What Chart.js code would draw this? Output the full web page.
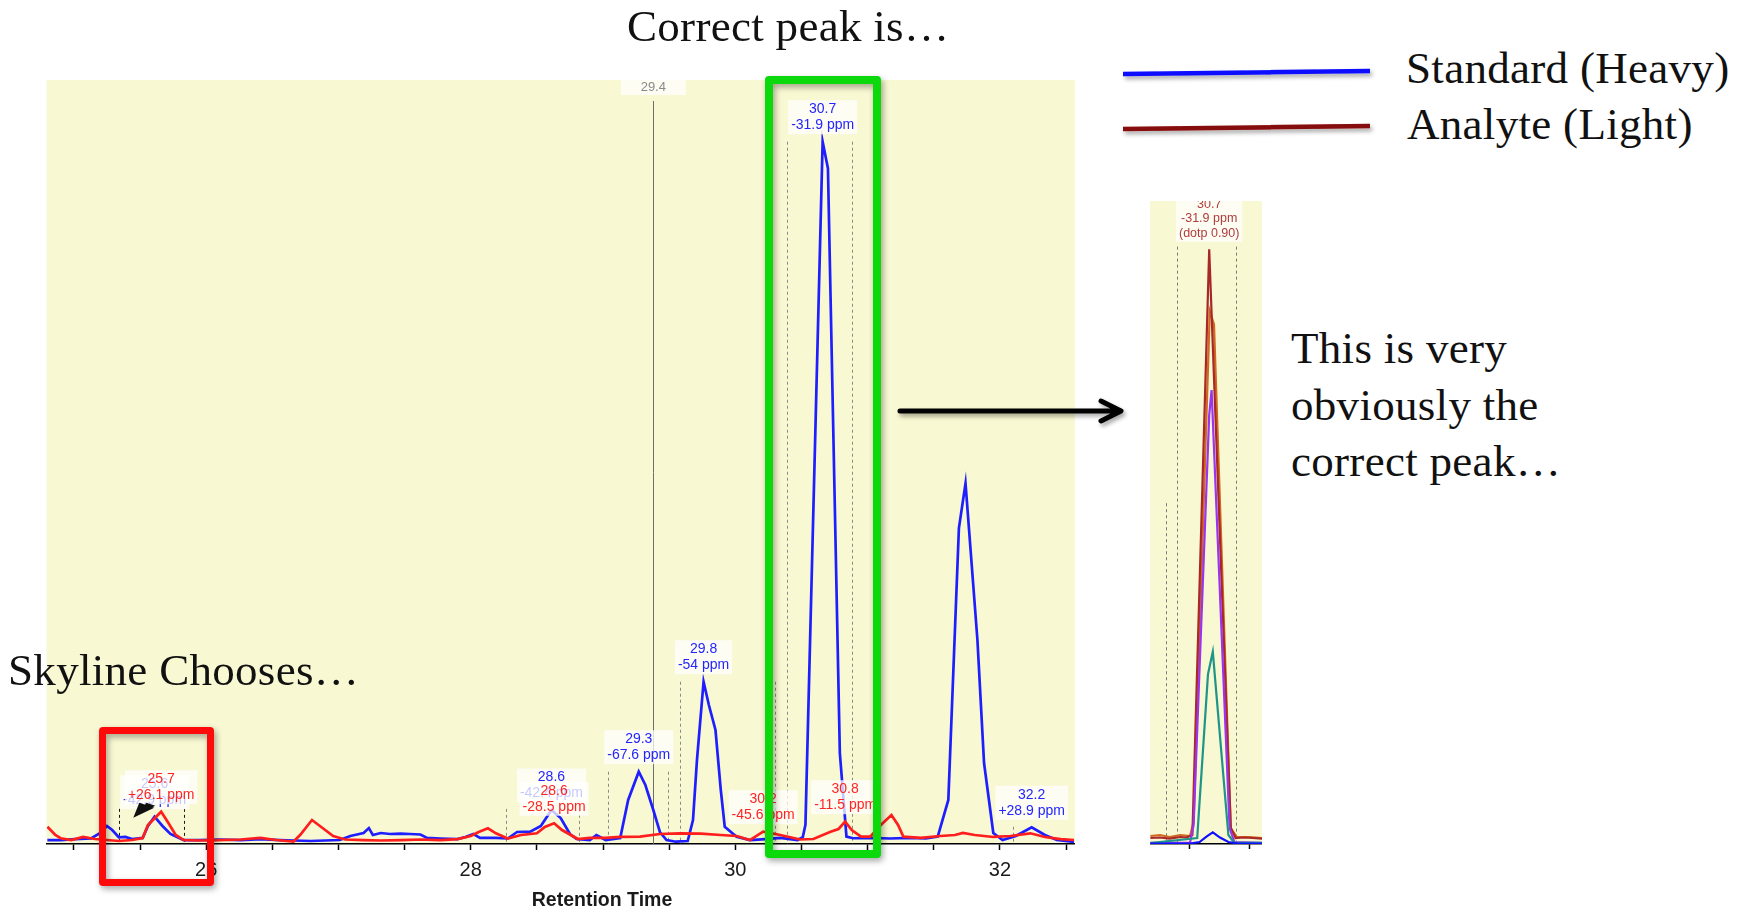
<!DOCTYPE html>
<html>
<head>
<meta charset="utf-8">
<title>Peak picking</title>
<script src="https://cdn.jsdelivr.net/npm/chart.js@4.4.1/dist/chart.umd.min.js"></script>
<style>
  html, body { margin: 0; padding: 0; background: #fff; }
  body { position: relative; width: 1741px; height: 908px; overflow: hidden; }
  canvas { position: absolute; }
  #main { left: 0; top: 0; }
  #zoom { left: 1150px; top: 201px; }
  .say { position: absolute; margin: 0; white-space: nowrap; color: #111; letter-spacing: 0.3px;
         font: 45px/56px "Liberation Serif", "DejaVu Serif", serif; }
  .frame { position: absolute; box-sizing: border-box; border-radius: 4px;
           filter: drop-shadow(2px 3px 3px rgba(0, 0, 0, .35)); }
  #marks { position: absolute; left: 0; top: 0; pointer-events: none; }
</style>
</head>
<body>
<canvas id="main" width="1100" height="908"></canvas>
<canvas id="zoom" width="112" height="651"></canvas>

<div class="say" style="left:627px;top:-2px">Correct peak is…</div>
<div class="say" style="left:1406px;top:40px">Standard (Heavy)</div>
<div class="say" style="left:1407px;top:96px">Analyte (Light)</div>
<div class="say" style="left:8px;top:642px">Skyline Chooses…</div>
<div class="say" style="left:1291px;top:320px;line-height:56.7px">This is very<br>obviously the<br>correct peak…</div>

<div class="frame" style="left:99px;top:727px;width:115px;height:159px;border:7.5px solid #ff0a0a"></div>
<div class="frame" style="left:765px;top:76px;width:116px;height:782px;border:8px solid #0bd90b"></div>

<svg id="marks" width="1741" height="908">
  <defs>
    <filter id="sh" filterUnits="userSpaceOnUse" x="0" y="0" width="1741" height="908">
      <feDropShadow dx="2" dy="3" stdDeviation="2" flood-opacity="0.35"/>
    </filter>
  </defs>
  <g filter="url(#sh)">
    <line x1="1123" y1="74" x2="1370" y2="71" stroke="#0b0bff" stroke-width="4.5"/>
    <line x1="1123" y1="129" x2="1370" y2="126" stroke="#850808" stroke-width="4.5"/>
    <path d="M900 411 H1118 M1101 401 L1121 411 L1101 421" fill="none" stroke="#000"
          stroke-width="5" stroke-linecap="round" stroke-linejoin="round"/>
  </g>
</svg>

<script>
const FONT = '"Liberation Sans", Arial, sans-serif';
const PLOT_BG = '#f8f8d2';

// main chromatogram: retention time (min) and intensity (% of full scale)
const heavyRt = [24.80, 24.90, 25.01, 25.13, 25.20, 25.25, 25.29, 25.34, 25.39, 25.44,
  25.52, 25.56, 25.61, 25.67, 25.73, 25.83, 25.95, 26.10, 26.26, 26.41, 26.56, 26.66,
  26.79, 27.01, 27.09, 27.14, 27.19, 27.23, 27.26, 27.32, 27.39, 27.47, 27.54, 27.62,
  27.67, 27.77, 27.90, 27.96, 28.02, 28.07, 28.19, 28.28, 28.35, 28.45, 28.53, 28.61,
  28.68, 28.75, 28.80, 28.90, 28.95, 29.02, 29.13, 29.19, 29.27, 29.32, 29.38, 29.43,
  29.48, 29.55, 29.64, 29.68, 29.71, 29.76, 29.80, 29.85, 29.89, 29.92, 30.01, 30.11,
  30.23, 30.34, 30.47, 30.51, 30.53, 30.66, 30.70, 30.79, 30.84, 30.89, 31.02, 31.17,
  31.32, 31.44, 31.53, 31.61, 31.69, 31.74, 31.83, 31.88, 31.95, 32.02, 32.12, 32.24,
  32.34, 32.43, 32.56];
const heavyInt = [0.52, 0.52, 0.65, 0.72, 1.44, 2.36, 1.83, 0.88, 0.92, 0.65,
  0.79, 2.36, 3.57, 2.36, 1.31, 0.52, 0.52, 0.59, 0.52, 0.65, 0.52, 0.46,
  0.39, 0.52, 1.05, 1.24, 1.44, 2.09, 1.18, 1.44, 1.31, 1.37, 1.31, 1.24,
  0.79, 0.72, 0.65, 0.92, 1.31, 0.79, 0.79, 0.72, 1.57, 1.61, 2.36, 4.45,
  3.40, 1.31, 0.65, 0.52, 1.18, 0.52, 0.79, 5.76, 9.46, 7.72, 4.45, 1.57,
  0.52, 0.30, 0.39, 3.14, 10.99, 21.24, 18.19, 14.92, 7.07, 2.26, 0.96, 0.52,
  0.65, 0.79, 0.52, 0.90, 2.50, 91.92, 88.44, 11.91, 0.96, 0.75, 0.79, 0.72,
  0.79, 0.72, 0.96, 5.76, 41.36, 47.21, 26.70, 10.60, 1.44, 0.52, 1.05, 2.19,
  1.18, 0.52, 0.26];
const lightRt = [24.80, 24.86, 24.90, 24.98, 25.07, 25.16, 25.25, 25.34, 25.44, 25.52,
  25.56, 25.66, 25.71, 25.77, 25.83, 25.95, 26.10, 26.26, 26.41, 26.53, 26.66, 26.71,
  26.80, 26.88, 26.96, 27.05, 27.19, 27.32, 27.47, 27.62, 27.77, 27.90, 28.00, 28.06,
  28.13, 28.19, 28.28, 28.38, 28.50, 28.56, 28.63, 28.69, 28.81, 28.90, 29.02, 29.13,
  29.28, 29.43, 29.58, 29.74, 29.89, 30.01, 30.11, 30.21, 30.34, 30.49, 30.59, 30.72,
  30.78, 30.83, 30.88, 30.95, 31.02, 31.10, 31.18, 31.23, 31.27, 31.40, 31.55, 31.66,
  31.72, 31.81, 31.95, 32.08, 32.23, 32.34, 32.46, 32.56];
const lightInt = [2.26, 1.18, 0.75, 0.52, 0.92, 0.65, 0.52, 0.39, 0.52, 0.79,
  2.49, 4.23, 2.88, 1.18, 0.52, 0.46, 0.52, 0.59, 0.79, 0.52, 0.30, 1.18,
  3.14, 2.09, 1.05, 0.59, 0.52, 0.46, 0.52, 0.59, 0.52, 0.65, 1.05, 1.57,
  2.05, 1.40, 0.72, 1.18, 1.40, 2.23, 2.71, 1.83, 0.65, 0.79, 0.79, 0.92,
  0.96, 1.31, 1.40, 1.37, 1.18, 1.05, 0.52, 1.61, 1.18, 0.59, 0.65, 1.61,
  1.96, 2.92, 1.83, 0.96, 0.96, 2.49, 3.80, 2.49, 0.96, 0.79, 1.05, 1.18,
  1.44, 1.18, 0.92, 1.05, 1.40, 0.92, 0.65, 0.52];

// labelled peak apexes and their mass errors
const heavyPeakRt = [25.61, 28.61, 29.27, 29.76, 30.66, 32.24];
const heavyPeakPpm = ['-42.9 ppm', '-42.4 ppm', '-67.6 ppm', '-54 ppm', '-31.9 ppm', '+28.9 ppm'];
const lightPeakRt = [25.66, 28.63, 30.21, 30.83];
const lightPeakPpm = ['+26.1 ppm', '-28.5 ppm', '-45.6 ppm', '-11.5 ppm'];

// integration boundaries; the first pair is the peak Skyline picked
const boundStart = [25.34, 28.27, 29.04, 29.58, 30.39, 32.10];
const boundEnd = [25.83, 28.82, 29.49, 30.30, 30.88, null];
const boundTop = [4.6, 4.6, 9.46, 21.24, 91.92, 2.26];
const predictedRt = 29.38;
const predictedTop = 97.25;
const pickedMarkRt = 25.54;
const pickedMarkInt = 4.6;

// zoomed view of the 30.7 min peak, all transitions
const zoomBrownRt = [30.17, 30.25, 30.33, 30.42, 30.47, 30.52, 30.66, 30.84, 30.88, 30.95, 31.02, 31.10];
const zoomBrown = [0.93, 1.01, 0.85, 1.09, 1.01, 1.40, 92.5, 2.48, 0.93, 1.01, 0.93, 0.85];
const zoomOrangeRt = [30.17, 30.25, 30.33, 30.42, 30.50, 30.53, 30.665, 30.70, 30.84, 30.89, 31.00, 31.10];
const zoomOrange = [1.24, 1.40, 1.09, 1.40, 1.24, 3.42, 82.9, 80.8, 2.48, 1.09, 1.09, 0.93];
const zoomPurpleRt = [30.17, 30.50, 30.53, 30.66, 30.68, 30.83, 30.87, 31.10];
const zoomPurple = [0.16, 0.16, 2.95, 66.7, 70.6, 2.48, 0.31, 0.16];
const zoomTealRt = [30.17, 30.56, 30.65, 30.69, 30.82, 30.87, 31.10];
const zoomTeal = [0.16, 0.93, 26.4, 29.9, 1.40, 0.16, 0.16];
const zoomBlueRt = [30.17, 30.50, 30.58, 30.64, 30.69, 30.75, 30.82, 30.90, 31.10];
const zoomBlue = [0.08, 0.08, 0.31, 1.2, 1.8, 1.0, 0.31, 0.08, 0.08];
const zoomPeakRt = 30.66;
const zoomPeakNotes = ['-31.9 ppm', '(dotp 0.90)'];
const zoomBoundRt = [30.30, 30.39, 30.88];
const zoomBoundTop = [53.0, 92.9, 92.9];

const xy = (rt, v) => rt.map((t, i) => ({ x: t, y: v[i] }));

const plotBg = {
  id: 'plotBg',
  beforeDraw(c) {
    const { ctx, chartArea: a } = c;
    ctx.save();
    ctx.fillStyle = PLOT_BG;
    ctx.fillRect(a.left, a.top, a.width, a.height);
    ctx.restore();
  }
};

// white tag with centred lines of text, sitting above a point
function peakLabel(ctx, x, bottom, lines, color, size, lh, minW) {
  ctx.font = size + 'px ' + FONT;
  const w = Math.max(minW || 0, ...lines.map(t => ctx.measureText(t).width + 6));
  const h = lines.length * lh + 2;
  ctx.fillStyle = 'rgba(255,255,255,0.75)';
  ctx.fillRect(x - w / 2, bottom - h, w, h);
  ctx.fillStyle = color;
  ctx.textAlign = 'center';
  ctx.textBaseline = 'middle';
  lines.forEach((t, i) => ctx.fillText(t, x, bottom - h + 1 + lh * (i + 0.5)));
}

function vline(ctx, px, top, bottom) {
  px = Math.round(px) + 0.5;
  ctx.beginPath();
  ctx.moveTo(px, top);
  ctx.lineTo(px, bottom);
  ctx.stroke();
}

const peakMarks = {
  id: 'peakMarks',
  beforeDatasetsDraw(c) {
    const { ctx, scales: { x, y } } = c;
    const base = y.getPixelForValue(0);
    ctx.save();
    ctx.lineWidth = 1;
    ctx.setLineDash([3, 3]);
    boundStart.forEach((s, i) => {
      ctx.strokeStyle = i === 0 ? '#1a1a1a' : '#8a8a8a';
      const top = y.getPixelForValue(boundTop[i]);
      [s, boundEnd[i]].forEach(t => { if (t != null) vline(ctx, x.getPixelForValue(t), top, base); });
    });
    ctx.setLineDash([]);
    ctx.strokeStyle = '#6e6e6e';
    vline(ctx, x.getPixelForValue(predictedRt), y.getPixelForValue(predictedTop), base);
    ctx.restore();
  },
  afterDatasetsDraw(c) {
    const { ctx, scales: { x, y }, chartArea: a } = c;
    ctx.save();
    peakLabel(ctx, x.getPixelForValue(predictedRt), a.top + 15, [predictedRt.toFixed(1)], '#8a8a8a', 13, 13, 65);
    heavyPeakRt.forEach((t, i) => {
      const v = heavyInt[heavyRt.indexOf(t)];
      peakLabel(ctx, x.getPixelForValue(t), y.getPixelForValue(v) - 7.5,
        [t.toFixed(1), heavyPeakPpm[i]], '#2424ff', 14, 16);
    });
    lightPeakRt.forEach((t, i) => {
      const v = lightInt[lightRt.indexOf(t)];
      peakLabel(ctx, x.getPixelForValue(t), y.getPixelForValue(v) - 7.5,
        [t.toFixed(1), lightPeakPpm[i]], '#ff2424', 14, 16);
    });
    // arrow marking the picked peak
    const ax = x.getPixelForValue(pickedMarkRt), ay = y.getPixelForValue(pickedMarkInt);
    ctx.fillStyle = '#111';
    [[[-12, 9], [-6, -6], [9, -1]], [[-6, 5], [1, -6], [10, -3]]].forEach(tri => {
      ctx.beginPath();
      tri.forEach(([dx, dy], k) => (k ? ctx.lineTo(ax + dx, ay + dy) : ctx.moveTo(ax + dx, ay + dy)));
      ctx.closePath();
      ctx.fill();
    });
    ctx.restore();
  },
  afterDraw(c) {
    const ctx = c.ctx;
    ctx.save();
    ctx.font = 'bold 19.5px ' + FONT;
    ctx.fillStyle = '#1a1a1a';
    ctx.textAlign = 'center';
    ctx.textBaseline = 'middle';
    ctx.fillText('Retention Time', 602, 901);
    ctx.restore();
  }
};

new Chart(document.getElementById('main'), {
  type: 'line',
  data: {
    datasets: [
      { label: 'Analyte (Light)', data: xy(lightRt, lightInt), borderColor: '#ff1e1e', order: 0 },
      { label: 'Standard (Heavy)', data: xy(heavyRt, heavyInt), borderColor: '#1e1eff', order: 1 }
    ]
  },
  options: {
    responsive: false,
    animation: false,
    datasets: { line: { borderWidth: 2.7, pointRadius: 0, tension: 0, fill: false } },
    layout: { padding: { left: 46.6, top: 80, right: 25.2, bottom: 0 } },
    plugins: { legend: { display: false }, tooltip: { enabled: false } },
    scales: {
      x: {
        type: 'linear', min: 24.794, max: 32.566,
        border: { display: true, color: '#000', width: 1.5 },
        grid: { display: true, drawOnChartArea: false, drawTicks: true, tickLength: 6, tickColor: '#000', tickWidth: 1.5 },
        ticks: {
          stepSize: 0.5, includeBounds: false, autoSkip: false, maxRotation: 0, minRotation: 0,
          padding: 8, color: '#1a1a1a', font: { family: FONT, size: 20 },
          callback: v => (v % 2 === 0 ? String(v) : '')
        },
        afterFit: s => { s.height = 64; }
      },
      y: { display: false, min: 0, max: 100 }
    }
  },
  plugins: [plotBg, peakMarks]
});

const zoomMarks = {
  id: 'zoomMarks',
  beforeDatasetsDraw(c) {
    const { ctx, scales: { x, y } } = c;
    const base = y.getPixelForValue(0);
    ctx.save();
    ctx.lineWidth = 1;
    ctx.strokeStyle = '#7a7a7a';
    ctx.setLineDash([3, 3]);
    zoomBoundRt.forEach((t, i) => vline(ctx, x.getPixelForValue(t), y.getPixelForValue(zoomBoundTop[i]), base));
    ctx.restore();
  },
  afterDatasetsDraw(c) {
    const { ctx, scales: { x, y } } = c;
    const v = zoomBrown[zoomBrownRt.indexOf(zoomPeakRt)];
    ctx.save();
    peakLabel(ctx, x.getPixelForValue(zoomPeakRt), y.getPixelForValue(v) - 7.5,
      [zoomPeakRt.toFixed(1), ...zoomPeakNotes], '#b03c3c', 12.5, 14.5);
    ctx.restore();
  }
};

new Chart(document.getElementById('zoom'), {
  type: 'line',
  data: {
    datasets: [
      { data: xy(zoomBlueRt, zoomBlue), borderColor: '#1010ff', order: 0 },
      { data: xy(zoomTealRt, zoomTeal), borderColor: '#1f9488', order: 1 },
      { data: xy(zoomPurpleRt, zoomPurple), borderColor: '#9a34f0', order: 2 },
      { data: xy(zoomBrownRt, zoomBrown), borderColor: '#a82828', order: 3 },
      { data: xy(zoomOrangeRt, zoomOrange), borderColor: '#cf6a20', order: 4 }
    ]
  },
  options: {
    responsive: false,
    animation: false,
    datasets: { line: { borderWidth: 2.2, pointRadius: 0, tension: 0, fill: false } },
    layout: { padding: 0 },
    plugins: { legend: { display: false }, tooltip: { enabled: false } },
    scales: {
      x: {
        type: 'linear', min: 30.1667, max: 31.1,
        border: { display: true, color: '#000', width: 1.5 },
        grid: { display: true, drawOnChartArea: false, drawTicks: true, tickLength: 5, tickColor: '#000', tickWidth: 1.5 },
        ticks: { stepSize: 0.5, includeBounds: false, display: false },
        afterFit: s => { s.height = 8; }
      },
      y: { display: false, min: 0, max: 100 }
    }
  },
  plugins: [plotBg, zoomMarks]
});
</script>
</body>
</html>
